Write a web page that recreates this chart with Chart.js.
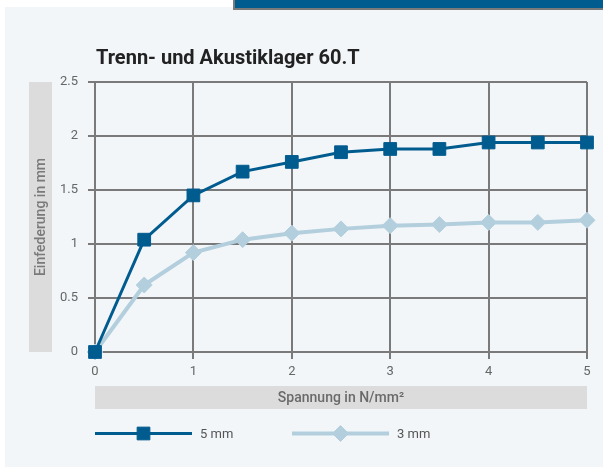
<!DOCTYPE html>
<html>
<head>
<meta charset="utf-8">
<script src="https://cdn.jsdelivr.net/npm/chart.js@4.4.0/dist/chart.umd.min.js"></script>
<style>
  html, body { margin: 0; padding: 0; background: #ffffff; }
  #wrap { position: relative; width: 603px; height: 467px; overflow: hidden; }
  #panel { position: absolute; left: 5px; top: 7px; right: 0; bottom: 0; background: #f2f6f9; }
  #bar { position: absolute; left: 233px; top: 0; width: 380px; height: 8px; background: #005b8f;
         border-left: 2px solid #7a7a7a; border-bottom: 2px solid #7a7a7a; }
  canvas { position: absolute; left: 0; top: 0; }
</style>
</head>
<body>
<div id="wrap">
  <div id="panel"></div>
  <div id="bar"></div>
  <canvas id="c" width="603" height="467"></canvas>
</div>
<script>
const chartTitle = 'Trenn- und Akustiklager 60.T';
const xTitle = 'Spannung in N/mm²';
const yTitle = 'Einfederung in mm';
const xValues = [0, 0.5, 1, 1.5, 2, 2.5, 3, 3.5, 4, 4.5, 5];
const series5mm = [0, 1.04, 1.45, 1.67, 1.76, 1.85, 1.88, 1.88, 1.94, 1.94, 1.94];
const series3mm = [0, 0.62, 0.92, 1.04, 1.10, 1.14, 1.17, 1.18, 1.20, 1.20, 1.22];
const seriesNames = ['5 mm', '3 mm'];
const xTicks = [0, 1, 2, 3, 4, 5];
const yTicks = [0, 0.5, 1, 1.5, 2, 2.5];

const DARK = '#005b8f';
const LIGHT = '#b3cfdd';
const GRID = '#7a7a7a';

function pts(vals) { return xValues.map((x, i) => ({ x: x, y: vals[i] })); }

const decor = {
  id: 'decor',
  beforeDraw(chart) {
    const { ctx, chartArea: a } = chart;
    ctx.save();
    ctx.fillStyle = '#dcdcdc';
    ctx.fillRect(29, a.top, 23, a.bottom - a.top);
    ctx.fillRect(a.left, 386, a.right - a.left, 23);
    ctx.restore();
  },
  afterDraw(chart) {
    const { ctx, chartArea: a } = chart;
    ctx.save();
    // title
    ctx.fillStyle = '#222222';
    ctx.font = 'bold 20px Roboto';
    ctx.textAlign = 'left';
    ctx.textBaseline = 'alphabetic';
    ctx.fillText(chartTitle, 96, 64);
    // axis titles
    ctx.fillStyle = '#6a6a6a';
    ctx.font = '500 14px Roboto';
    ctx.textAlign = 'center';
    ctx.textBaseline = 'middle';
    ctx.fillText(xTitle, (a.left + a.right) / 2, 398);
    ctx.fillStyle = '#7a7a7a';
    ctx.font = '500 14px Roboto';
    ctx.translate(41, (a.top + a.bottom) / 2);
    ctx.rotate(-Math.PI / 2);
    ctx.fillText(yTitle, 0, 0);
    ctx.restore();
    // legend
    const items = [
      { x0: 95, x1: 192, color: DARK, lw: 3, style: 'rect', r: 9, label: seriesNames[0], lx: 200 },
      { x0: 292, x1: 389, color: LIGHT, lw: 4, style: 'rectRot', r: 8, label: seriesNames[1], lx: 397 }
    ];
    const ly = 433.5;
    items.forEach(it => {
      ctx.save();
      ctx.strokeStyle = it.color;
      ctx.lineWidth = it.lw;
      ctx.beginPath();
      ctx.moveTo(it.x0, ly);
      ctx.lineTo(it.x1, ly);
      ctx.stroke();
      ctx.fillStyle = it.color;
      ctx.lineWidth = 1;
      Chart.helpers.drawPoint(ctx, { pointStyle: it.style, radius: it.r, rotation: 0, borderWidth: 1 }, (it.x0 + it.x1) / 2, ly);
      ctx.fillStyle = '#555555';
      ctx.font = '13px Roboto';
      ctx.textAlign = 'left';
      ctx.textBaseline = 'middle';
      ctx.fillText(it.label, it.lx, ly + 1);
      ctx.restore();
    });
  }
};

new Chart(document.getElementById('c'), {
  type: 'line',
  data: {
    datasets: [
      {
        label: seriesNames[0], data: pts(series5mm),
        borderColor: DARK, backgroundColor: DARK, borderWidth: 3,
        pointStyle: 'rect', pointRadius: 9, pointBorderWidth: 1, pointBorderColor: DARK, pointBackgroundColor: DARK,
        tension: 0, order: 1, clip: false
      },
      {
        label: seriesNames[1], data: pts(series3mm),
        borderColor: LIGHT, backgroundColor: LIGHT, borderWidth: 4,
        pointStyle: 'rectRot', pointRadius: 8, pointBorderWidth: 1, pointBorderColor: LIGHT, pointBackgroundColor: LIGHT,
        tension: 0, order: 2, clip: false
      }
    ]
  },
  options: {
    responsive: false,
    animation: false,
    devicePixelRatio: 1,
    layout: { padding: { left: 0, right: 16, top: 82, bottom: 0 } },
    plugins: { legend: { display: false }, title: { display: false }, tooltip: { enabled: false } },
    scales: {
      x: {
        type: 'linear', min: 0, max: 5,
        afterFit(s) { s.height = 467 - 352; },
        afterBuildTicks(s) { s.ticks = xTicks.map(v => ({ value: v })); },
        grid: { color: GRID, lineWidth: 2, tickLength: 7, drawOnChartArea: true },
        border: { color: GRID, width: 2 },
        ticks: { color: '#666666', font: { family: 'Roboto', size: 13 }, padding: 5, maxRotation: 0,
                 callback: v => String(v) }
      },
      y: {
        type: 'linear', min: 0, max: 2.5,
        afterFit(s) { s.width = 95; },
        afterBuildTicks(s) { s.ticks = yTicks.map(v => ({ value: v })); },
        grid: { color: GRID, lineWidth: 2, tickLength: 7 },
        border: { color: GRID, width: 2 },
        ticks: { color: '#666666', font: { family: 'Roboto', size: 13 }, padding: 10,
                 callback: v => String(v) }
      }
    }
  },
  plugins: [decor]
});
</script>
</body>
</html>
